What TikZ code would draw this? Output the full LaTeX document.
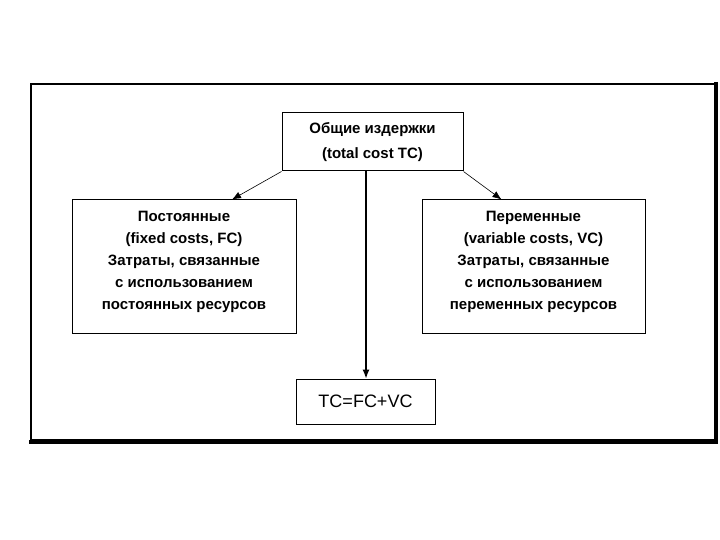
\documentclass[tikz,border=0pt]{standalone}
\usepackage{fontspec}
\setmainfont{Liberation Sans}
\usetikzlibrary{arrows.meta,calc,positioning}

\begin{document}
\begin{tikzpicture}[x=1pt,y=-1pt,>={Latex[length=9pt,width=7pt]},
  font=\fontsize{15}{22}\selectfont\bfseries]
\tikzset{costbox/.style={draw,line width=1pt,align=center,inner sep=0pt},
  link/.style={->,line width=0.6pt}}
\useasboundingbox (0,0) rectangle (720,540);
% outer frame with shadow edges
\draw[line width=1.5pt] (31,84) rectangle (716,440);
\draw[line width=4pt] (716,82) -- (716,442) -- (29,442);
\node[costbox,minimum width=181pt,minimum height=58pt,
  font=\fontsize{15}{25}\selectfont\bfseries] (tc) at (372.5,142)
  {Общие издержки\\(total cost TC)};
\node[costbox,minimum width=224pt,minimum height=133pt] (fc) at (184,266.5)
  {Постоянные\\(fixed costs, FC)\\Затраты, связанные\\с использованием\\постоянных ресурсов\\[-9pt]\mbox{}};
\node[costbox,minimum width=223pt,minimum height=133pt] (vc) at (533.5,266.5)
  {Переменные\\(variable costs, VC)\\Затраты, связанные\\с использованием\\переменных ресурсов\\[-9pt]\mbox{}};
\node[costbox,minimum width=139pt,minimum height=45pt,
  font=\fontsize{18}{20}\selectfont] (sum) at (365.5,401.5) {TC=FC+VC};
\coordinate (fcin) at ($(fc.north)+(48,0)$);
\coordinate (vcin) at ($(vc.north)+(-32,0)$);
\coordinate (tcout) at ($(tc.south)+(-6.5,0)$);
\draw[link] (tc.south west) -- (fcin);
\draw[link] (tc.south east) -- (vcin);
\draw[link,line width=1.2pt] (tcout) -- (tcout |- sum.north);
\end{tikzpicture}
\end{document}
